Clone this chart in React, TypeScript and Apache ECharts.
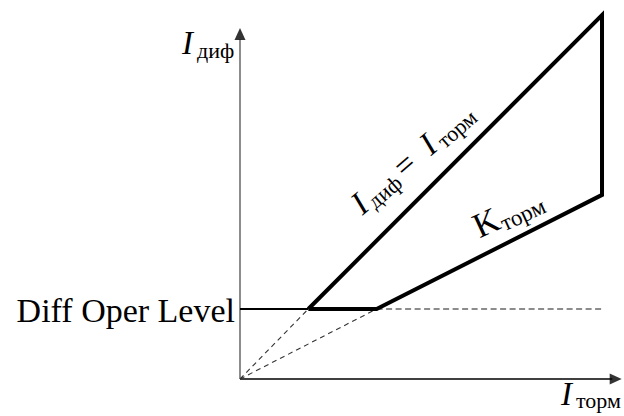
import React, { useEffect, useRef } from "react";
import * as echarts from "echarts";

// Differential protection operating characteristic (I_diff vs I_restraint)
const operLevel = 1; // "Diff Oper Level" on the I_diff axis
const operLevelLabel = "Diff Oper Level";
const pointA: [number, number] = [1, 1]; // I_diff = I_torm meets the operating level
const pointB: [number, number] = [2, 1]; // start of the K_torm slope
const pointTop: [number, number] = [5.3, 5.2]; // end of the I_diff = I_torm line
const pointSlopeEnd: [number, number] = [5.3, 2.63]; // end of the K_torm slope
const origin: [number, number] = [0, 0];
const xAxisEnd = 5.45;
const yAxisEnd = 4.85;
const xArrow: [number, number] = [5.5, 0];
const yArrow: [number, number] = [0, 4.93];

const serif = "Liberation Serif";

// one run of text: [content, italic, size, x offset, y offset]
type Run = [string, boolean, number, number, number];

const textGroup = (runs: Run[], x: number, y: number, rotation = 0) => ({
  type: "group",
  x,
  y,
  rotation,
  silent: true,
  children: runs.map(([text, italic, size, dx, dy]) => ({
    type: "text",
    x: dx,
    y: dy,
    style: {
      text,
      fontFamily: serif,
      fontStyle: italic ? "italic" : "normal",
      fontWeight: "normal",
      fontSize: size,
      fill: "#000",
      align: "left",
      verticalAlign: "bottom",
    },
  })),
});

// width of a text run, for right-aligning it against the axis
const measure = (text: string, size: number) => {
  const ctx = document.createElement("canvas").getContext("2d");
  if (!ctx) return text.length * size * 0.45;
  ctx.font = `${size}px "${serif}", serif`;
  return ctx.measureText(text).width;
};

export default function App() {
  const ref = useRef<HTMLDivElement>(null);

  useEffect(() => {
    if (!ref.current) return;
    const chart = echarts.init(ref.current, null, { renderer: "svg" });

    const plain = (data: number[][], color: string, width: number, type: any = "solid", z = 2) => ({
      type: "line",
      data,
      symbol: "none",
      silent: true,
      clip: false,
      z,
      lineStyle: { color, width, type, cap: "butt", join: "miter" },
    });

    chart.setOption({
      animation: false,
      backgroundColor: "#fff",
      grid: { left: 240, right: 1.5, top: 1, bottom: 37, containLabel: false },
      xAxis: {
        type: "value",
        min: 0,
        max: 5.6,
        axisLine: { show: false },
        axisTick: { show: false },
        axisLabel: { show: false },
        splitLine: { show: false },
      },
      yAxis: {
        type: "value",
        min: 0,
        max: 5.4,
        axisLine: { show: false },
        axisTick: { show: false },
        axisLabel: { show: false },
        splitLine: { show: false },
      },
      series: [
        // axes
        plain([origin, [0, yAxisEnd]], "#808080", 1.8, "solid", 1),
        plain([origin, [xAxisEnd, 0]], "#000", 1.6, "solid", 1),
        {
          type: "scatter",
          silent: true,
          data: [
            { value: yArrow, symbolRotate: 0 },
            { value: xArrow, symbolRotate: -90 },
          ],
          symbol: "triangle",
          symbolSize: [11, 12],
          itemStyle: { color: "#000" },
          z: 3,
        },
        // construction lines
        plain([origin, pointA], "#333", 1.1, [5, 4], 1),
        plain([origin, pointB], "#333", 1.1, [5, 4], 1),
        plain([pointB, [pointTop[0], operLevel]], "#8c8c8c", 1.8, [6, 3.5], 1),
        // operating level up to the characteristic
        plain([[0, operLevel], pointA], "#000", 2, "solid", 2),
        // characteristic outline
        plain([pointA, pointTop, pointSlopeEnd, pointB, pointA], "#000", 4, "solid", 3),
      ],
    });

    // place the level label against the y position of the operating level
    const [lx, ly] = chart.convertToPixel({ gridIndex: 0 }, [0, operLevel]) as number[];
    const levelWidth = measure(operLevelLabel, 34);

    chart.setOption({
      graphic: [
        textGroup([[operLevelLabel, false, 34, 0, 0]], lx - 5 - levelWidth, ly + 18),
        textGroup(
          [
            ["I", true, 33, 0, 0],
            ["диф", false, 22, 15, 2],
          ],
          182,
          59
        ),
        textGroup(
          [
            ["I", true, 33, 0, 0],
            ["торм", false, 22, 15, 1],
          ],
          561,
          410
        ),
        textGroup(
          [
            ["I", true, 33, 0, 0],
            ["диф", false, 22, 14, 2],
            ["=", false, 33, 56, 0],
            ["I", true, 33, 91, 0],
            ["торм", false, 22, 106, 2],
          ],
          366,
          220,
          0.716
        ),
        textGroup(
          [
            ["K", false, 35, 0, 0],
            ["торм", false, 23, 26, 2],
          ],
          482,
          244,
          0.43
        ),
      ],
    });

    return () => chart.dispose();
  }, []);

  return <div ref={ref} style={{ width: 624, height: 416, position: "absolute", left: 0, top: 0 }} />;
}
